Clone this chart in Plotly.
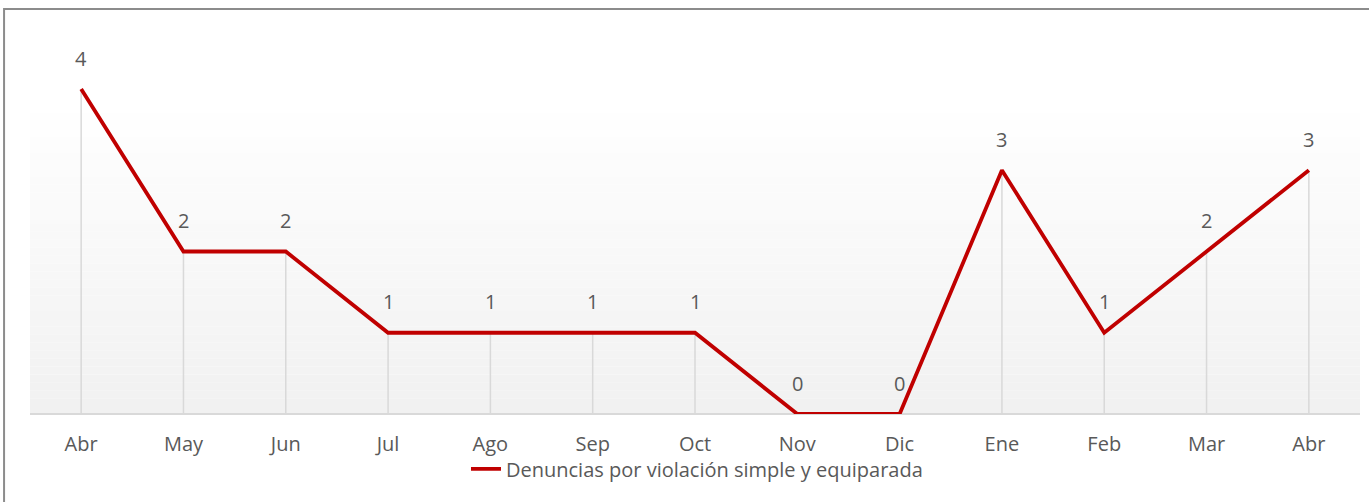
import plotly.graph_objects as go

months = ["Abr", "May", "Jun", "Jul", "Ago", "Sep", "Oct", "Nov", "Dic", "Ene", "Feb", "Mar", "Abr"]
values = [4, 2, 2, 1, 1, 1, 1, 0, 0, 3, 1, 2, 3]
series_name = "Denuncias por violación simple y equiparada"

x_idx = list(range(len(months)))
FONT = "Open Sans"
TXT = "#595959"
FS = 20

fig = go.Figure()

# drop lines from each point to the axis
dx, dy = [], []
for xi, v in zip(x_idx, values):
    dx += [xi, xi, None]
    dy += [0, v, None]
fig.add_trace(go.Scatter(x=dx, y=dy, mode="lines", line=dict(color="#d9d9d9", width=1.5),
                         hoverinfo="skip", showlegend=False))

fig.add_trace(go.Scatter(x=x_idx, y=values, mode="lines", name=series_name,
                         line=dict(color="#c00000", width=3.8)))

for xi, v in zip(x_idx, values):
    fig.add_annotation(x=xi, y=v, text=str(v), showarrow=False, yshift=31,
                       font=dict(family=FONT, size=20, color=TXT))

# gradient plot-area background (bands)
shapes = []
n = 40
top, bot = 3.9, 0.0
for i in range(n):
    y0 = bot + (top - bot) * i / n
    y1 = bot + (top - bot) * (i + 1) / n
    t = i / (n - 1)
    c = int(round(241 + (255 - 241) * t))
    shapes.append(dict(type="rect", xref="paper", yref="y", x0=0, x1=1, y0=y0, y1=y1,
                       fillcolor=f"rgb({c},{c},{c})", line=dict(width=0), layer="below"))
# chart border
shapes.append(dict(type="rect", xref="paper", yref="paper", x0=-0.0195, x1=1.03,
                   y0=-0.3, y1=1.1126, line=dict(color="#8c8c8c", width=2),
                   fillcolor="rgba(0,0,0,0)", layer="above"))

fig.update_layout(
    width=1369, height=502,
    margin=dict(l=30, r=9, t=50, b=88),
    paper_bgcolor="white", plot_bgcolor="white",
    shapes=shapes,
    showlegend=True,
    legend=dict(orientation="h", x=0.5015, xanchor="center", y=-0.151, yanchor="middle",
                font=dict(family=FONT, size=FS, color=TXT), bgcolor="rgba(0,0,0,0)"),
    xaxis=dict(range=[-0.5, 12.5], tickmode="array", tickvals=x_idx, ticktext=months,
               showgrid=False, zeroline=False, showline=False, ticks="",
               ticklabelstandoff=16,
               tickfont=dict(family=FONT, size=FS, color=TXT)),
    yaxis=dict(range=[0, 4.48], showgrid=False, zeroline=True, zerolinecolor="#d9d9d9",
               zerolinewidth=1.5, showticklabels=False, showline=False, ticks=""),
    hovermode=False,
)

fig.write_html("out.html", config={"displayModeBar": False},
               post_script="document.body.style.margin='0px';")
